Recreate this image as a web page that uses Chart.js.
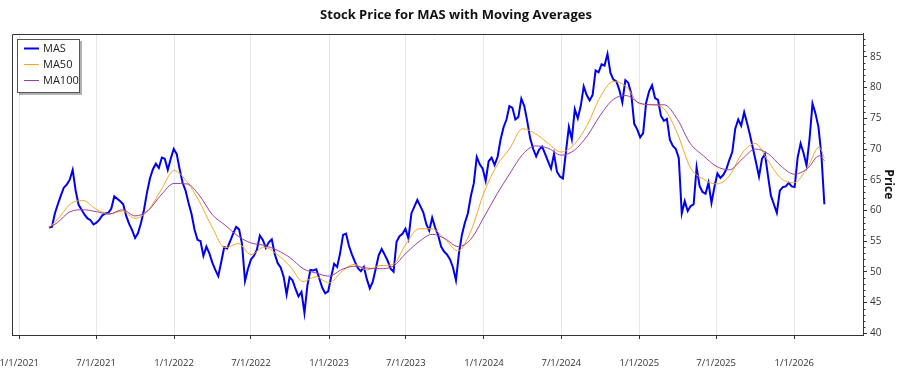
<!DOCTYPE html>
<html>
<head>
<meta charset="utf-8">
<title>Stock Price for MAS with Moving Averages</title>
<script src="https://cdn.jsdelivr.net/npm/chart.js"></script>
<style>
  html, body { margin: 0; padding: 0; background: #fff; }
  #wrap { width: 900px; height: 375px; position: relative; }
</style>
</head>
<body>
<div id="wrap"><canvas id="myChart"></canvas></div>
<script>
// weekly closes (Fridays)
const priceDates = [
  '2021-03-12','2021-03-19','2021-03-26','2021-04-02','2021-04-09','2021-04-16','2021-04-23','2021-04-30','2021-05-07','2021-05-14',
  '2021-05-21','2021-05-28','2021-06-04','2021-06-11','2021-06-18','2021-06-25','2021-07-02','2021-07-09','2021-07-16','2021-07-23',
  '2021-07-30','2021-08-06','2021-08-13','2021-08-20','2021-08-27','2021-09-03','2021-09-10','2021-09-17','2021-09-24','2021-10-01',
  '2021-10-08','2021-10-15','2021-10-22','2021-10-29','2021-11-05','2021-11-12','2021-11-19','2021-11-26','2021-12-03','2021-12-10',
  '2021-12-17','2021-12-24','2021-12-31',
  '2022-01-07','2022-01-14','2022-01-21','2022-01-28','2022-02-04','2022-02-11','2022-02-18','2022-02-25','2022-03-04','2022-03-11',
  '2022-03-18','2022-03-25','2022-04-01','2022-04-08','2022-04-15','2022-04-22','2022-04-29','2022-05-06','2022-05-13','2022-05-20',
  '2022-05-27','2022-06-03','2022-06-10','2022-06-17','2022-06-24','2022-07-01','2022-07-08','2022-07-15','2022-07-22','2022-07-29',
  '2022-08-05','2022-08-12','2022-08-19','2022-08-26','2022-09-02','2022-09-09','2022-09-16','2022-09-23','2022-09-30','2022-10-07',
  '2022-10-14','2022-10-21','2022-10-28','2022-11-04','2022-11-11','2022-11-18','2022-11-25','2022-12-02','2022-12-09','2022-12-16',
  '2022-12-23','2022-12-30',
  '2023-01-06','2023-01-13','2023-01-20','2023-01-27','2023-02-03','2023-02-10','2023-02-17','2023-02-24','2023-03-03','2023-03-10',
  '2023-03-17','2023-03-24','2023-03-31','2023-04-07','2023-04-14','2023-04-21','2023-04-28','2023-05-05','2023-05-12','2023-05-19',
  '2023-05-26','2023-06-02','2023-06-09','2023-06-16','2023-06-23','2023-06-30','2023-07-07','2023-07-14','2023-07-21','2023-07-28',
  '2023-08-04','2023-08-11','2023-08-18','2023-08-25','2023-09-01','2023-09-08','2023-09-15','2023-09-22','2023-09-29','2023-10-06',
  '2023-10-13','2023-10-20','2023-10-27','2023-11-03','2023-11-10','2023-11-17','2023-11-24','2023-12-01','2023-12-08','2023-12-15',
  '2023-12-22','2023-12-29',
  '2024-01-05','2024-01-12','2024-01-19','2024-01-26','2024-02-02','2024-02-09','2024-02-16','2024-02-23','2024-03-01','2024-03-08',
  '2024-03-15','2024-03-22','2024-03-29','2024-04-05','2024-04-12','2024-04-19','2024-04-26','2024-05-03','2024-05-10','2024-05-17',
  '2024-05-24','2024-05-31','2024-06-07','2024-06-14','2024-06-21','2024-06-28','2024-07-05','2024-07-12','2024-07-19','2024-07-26',
  '2024-08-02','2024-08-09','2024-08-16','2024-08-23','2024-08-30','2024-09-06','2024-09-13','2024-09-20','2024-09-27','2024-10-04',
  '2024-10-11','2024-10-18','2024-10-25','2024-11-01','2024-11-08','2024-11-15','2024-11-22','2024-11-29','2024-12-06','2024-12-13',
  '2024-12-20','2024-12-27',
  '2025-01-03','2025-01-10','2025-01-17','2025-01-24','2025-01-31','2025-02-07','2025-02-14','2025-02-21','2025-02-28','2025-03-07',
  '2025-03-14','2025-03-21','2025-03-28','2025-04-04','2025-04-11','2025-04-18','2025-04-25','2025-05-02','2025-05-09','2025-05-16',
  '2025-05-23','2025-05-30','2025-06-06','2025-06-13','2025-06-20','2025-06-27','2025-07-04','2025-07-11','2025-07-18','2025-07-25',
  '2025-08-01','2025-08-08','2025-08-15','2025-08-22','2025-08-29','2025-09-05','2025-09-12','2025-09-19','2025-09-26','2025-10-03',
  '2025-10-10','2025-10-17','2025-10-24','2025-10-31','2025-11-07','2025-11-14','2025-11-21','2025-11-28','2025-12-05','2025-12-12',
  '2025-12-19','2025-12-26',
  '2026-01-02','2026-01-09','2026-01-16','2026-01-23','2026-01-30','2026-02-06','2026-02-13','2026-02-20','2026-02-27','2026-03-06',
  '2026-03-13'
];

const masPrice = [
  57.2, 57.3, 59.5, 61.0, 62.4, 63.7, 64.2, 65.0, 66.6, 63.2,
  60.9, 60.1, 59.3, 58.7, 58.4, 57.7, 58.0, 58.5, 59.2, 59.5,
  59.6, 60.3, 62.3, 61.9, 61.5, 61.0, 59.1, 57.8, 56.8, 55.5,
  56.3, 58.0, 60.1, 62.9, 65.2, 66.7, 67.6, 66.9, 68.6, 68.4,
  66.6, 68.4, 70.0, 69.2, 66.7, 64.5, 63.2, 61.2, 59.4, 56.9,
  55.2, 55.0, 52.6, 54.1, 53.0, 51.5, 50.3, 49.3, 51.6, 54.0,
  53.8, 55.0, 56.2, 57.3, 56.9, 54.5, 48.5, 50.5, 52.0, 52.6,
  53.6, 55.9, 55.2, 53.9, 54.8, 55.3, 52.9, 51.4, 50.7, 49.2,
  46.3, 49.1, 48.6, 47.2, 46.0, 46.7, 43.3, 47.8, 50.3, 50.2,
  50.4, 48.9, 47.4, 46.5, 46.8, 49.2, 51.3, 50.8, 53.0, 56.0,
  56.2, 54.2, 52.8, 51.6, 50.6, 50.1, 50.8, 48.8, 47.3, 48.4,
  50.5, 52.7, 53.7, 52.8, 51.8, 50.5, 50.0, 54.9, 55.8, 56.2,
  57.0, 55.4, 59.5, 60.6, 61.7, 60.7, 59.7, 57.8, 56.7, 58.8,
  57.2, 56.0, 54.1, 53.3, 52.8, 52.0, 50.7, 48.6, 53.0, 56.0,
  58.0, 59.5, 62.3, 64.4, 68.7, 67.5, 66.8, 64.8, 68.0, 68.6,
  67.4, 68.7, 71.5, 73.5, 74.8, 77.0, 76.7, 74.8, 75.2, 78.2,
  77.0, 74.5, 71.7, 70.0, 68.8, 69.9, 70.4, 69.2, 68.0, 66.8,
  69.2, 66.3, 65.5, 65.2, 69.5, 73.6, 71.6, 76.5, 75.0, 77.0,
  80.2, 78.8, 77.9, 78.8, 82.8, 82.5, 83.8, 83.6, 85.5, 82.4,
  81.3, 81.0, 79.6, 77.6, 81.2, 80.8, 79.0, 74.1, 73.2, 71.9,
  72.6, 77.5, 79.4, 80.4, 78.3, 78.0, 75.4, 74.6, 74.9, 71.5,
  70.5, 70.0, 68.5, 59.5, 61.5, 59.9, 60.7, 61.0, 67.0, 64.0,
  63.0, 62.7, 64.5, 61.2, 63.8, 66.0, 65.3, 65.8, 66.7, 68.2,
  69.5, 73.3, 74.8, 73.8, 76.0, 74.2, 72.2, 70.0, 67.8, 65.5,
  68.4, 69.2, 65.7, 62.4, 61.0, 59.6, 63.2, 63.8, 63.9, 64.5,
  63.9, 63.8, 68.6, 70.9, 69.3, 67.3, 71.6, 77.4, 75.8, 73.6,
  69.0, 61.0
];

// moving averages
const maDates = [
  '2021-03-12','2021-04-01','2021-05-01','2021-06-01','2021-07-01','2021-08-01','2021-09-01','2021-10-01','2021-11-01','2021-12-01',
  '2022-01-01','2022-02-01','2022-03-01','2022-04-01','2022-05-01','2022-06-01','2022-07-01','2022-08-01','2022-09-01','2022-10-01','2022-11-01','2022-12-01',
  '2023-01-01','2023-02-01','2023-03-01','2023-04-01','2023-05-01','2023-06-01','2023-07-01','2023-08-01','2023-09-01','2023-10-01','2023-11-01','2023-12-01',
  '2024-01-01','2024-02-01','2024-03-01','2024-04-01','2024-05-01','2024-06-01','2024-07-01','2024-08-01','2024-09-01','2024-10-01','2024-11-01','2024-12-01',
  '2025-01-01','2025-02-01','2025-03-01','2025-04-01','2025-05-01','2025-06-01','2025-07-01','2025-08-01','2025-09-01','2025-10-01','2025-11-01','2025-12-01',
  '2026-01-01','2026-02-01','2026-03-01','2026-03-13'
];
const ma50 = [
  57.2, 58.5, 61.0, 61.6, 60.2, 59.4, 59.9, 58.7, 60.0, 63.3,
  66.5, 64.6, 61.5, 57.2, 53.9, 54.6, 52.8, 54.0, 52.8, 50.9, 48.4, 49.2,
  48.2, 50.1, 51.2, 50.3, 51.0, 51.2, 54.5, 57.0, 57.0, 55.3, 53.4, 56.6,
  62.9, 67.4, 70.0, 73.3, 72.5, 70.9, 69.5, 70.8, 74.0, 78.5, 81.0, 80.2,
  77.4, 77.2, 76.5, 72.5, 67.0, 65.1, 64.3, 65.6, 69.4, 70.9, 68.0, 65.2,
  64.5, 67.0, 70.3, 68.5
];
const ma100 = [
  57.2, 58.0, 59.8, 60.1, 59.8, 59.4, 60.1, 59.1, 60.0, 62.5,
  64.4, 64.3, 62.5, 59.3, 57.6, 55.8, 54.7, 54.3, 53.5, 52.3, 50.5, 49.8,
  49.3, 50.4, 50.9, 50.6, 50.5, 50.9, 53.0, 54.9, 56.1, 55.4, 54.1, 55.3,
  58.9, 62.7, 65.9, 69.1, 70.5, 70.1, 69.0, 69.8, 72.2, 75.5, 78.1, 78.7,
  77.5, 77.2, 77.2, 74.8, 70.9, 68.9, 67.2, 66.6, 68.4, 70.0, 69.2, 67.2,
  65.9, 66.8, 68.9, 68.1
];

const xTicks = ['1/1/2021','7/1/2021','1/1/2022','7/1/2022','1/1/2023','7/1/2023','1/1/2024','7/1/2024','1/1/2025','7/1/2025','1/1/2026'];
const yTicks = [40, 45, 50, 55, 60, 65, 70, 75, 80, 85];

const FONT = "'Open Sans', 'Noto Sans', sans-serif";
const mdyToMs = s => { const [m, d, y] = s.split('/').map(Number); return Date.UTC(y, m - 1, d); };
const pts = (dates, vals) => dates.map((d, i) => ({ x: Date.parse(d), y: vals[i] }));

// frame (top/left edges), minor ticks on the price axis, legend box inside the plot
const extras = {
  id: 'extras',
  afterDraw(chart) {
    const { ctx, chartArea: a } = chart;
    const ys = chart.scales.y;
    ctx.save();
    ctx.strokeStyle = '#333';
    ctx.lineWidth = 1;
    ctx.beginPath();
    ctx.moveTo(Math.round(a.left) + 0.5, a.bottom);
    ctx.lineTo(Math.round(a.left) + 0.5, Math.round(a.top) + 0.5);
    ctx.lineTo(a.right, Math.round(a.top) + 0.5);
    ctx.stroke();
    ctx.beginPath();
    for (let v = Math.ceil(ys.min); v <= ys.max; v++) {
      if (v % 5 === 0) continue;
      const py = Math.round(ys.getPixelForValue(v)) + 0.5;
      ctx.moveTo(a.right, py);
      ctx.lineTo(a.right + 2.5, py);
    }
    ctx.stroke();

    const x = Math.round(a.left) + 5, y = Math.round(a.top) + 5, w = 62, h = 53;
    ctx.fillStyle = 'rgba(0,0,0,0.3)';
    ctx.fillRect(x + 2, y + 2, w + 1, h + 1);
    ctx.fillStyle = '#fff';
    ctx.fillRect(x, y, w, h);
    ctx.strokeStyle = '#555';
    ctx.strokeRect(x + 0.5, y + 0.5, w, h);
    ctx.font = '11px ' + FONT;
    ctx.textBaseline = 'middle';
    chart.data.datasets.forEach((ds, i) => {
      const ly = Math.round(y + 8.7 + i * 16.3) + 0.5;
      ctx.strokeStyle = ds.borderColor;
      ctx.lineWidth = ds.borderWidth;
      ctx.beginPath();
      ctx.moveTo(x + 7, ly);
      ctx.lineTo(x + 22, ly);
      ctx.stroke();
      ctx.fillStyle = '#222';
      ctx.fillText(ds.label, x + 26, ly);
    });
    ctx.restore();
  }
};

new Chart(document.getElementById('myChart'), {
  type: 'line',
  data: {
    datasets: [
      { label: 'MAS', data: pts(priceDates, masPrice), borderColor: '#0000f0', borderWidth: 2, order: 3 },
      { label: 'MA50', data: pts(maDates, ma50), borderColor: '#f5a623', borderWidth: 1, cubicInterpolationMode: 'monotone', order: 2 },
      { label: 'MA100', data: pts(maDates, ma100), borderColor: '#9a3f9e', borderWidth: 1, cubicInterpolationMode: 'monotone', order: 1 }
    ]
  },
  options: {
    responsive: true,
    maintainAspectRatio: false,
    animation: false,
    elements: { point: { radius: 0 }, line: { fill: false } },
    layout: { padding: { left: 12, right: 0, top: 0, bottom: 0 } },
    plugins: {
      legend: { display: false },
      tooltip: { enabled: false },
      title: {
        display: true,
        text: 'Stock Price for MAS with Moving Averages',
        color: '#111',
        font: { family: FONT, size: 13, weight: 'bold' },
        padding: { top: 7, bottom: 11 }
      }
    },
    scales: {
      x: {
        type: 'linear',
        min: Date.parse('2020-12-15'),
        max: Date.parse('2026-06-12'),
        afterBuildTicks: s => { s.ticks = xTicks.map(t => ({ value: mdyToMs(t) })); },
        afterFit: s => { s.height = 40; s.paddingLeft = 0; s.paddingRight = 0; },
        ticks: {
          autoSkip: false, maxRotation: 0, padding: 19,
          color: '#333', font: { family: FONT, size: 9.5 },
          callback: (v, i) => xTicks[i]
        },
        grid: { color: '#e6e6e6', tickColor: '#333', tickLength: 4 },
        border: { color: '#333' }
      },
      y: {
        position: 'right',
        min: 39.7,
        max: 88.8,
        afterBuildTicks: s => { s.ticks = yTicks.map(v => ({ value: v })); },
        afterFit: s => { s.width = 37; s.paddingTop = 0; s.paddingBottom = 0; },
        ticks: { padding: 3, color: '#333', font: { family: FONT, size: 10 } },
        grid: { drawOnChartArea: false, tickColor: '#333', tickLength: 4 },
        border: { color: '#333' },
        title: {
          display: true, text: 'Price', color: '#111',
          font: { family: FONT, size: 12, weight: 'bold' },
          padding: { top: 4, bottom: 0 }
        }
      }
    }
  },
  plugins: [extras]
});
</script>
</body>
</html>
